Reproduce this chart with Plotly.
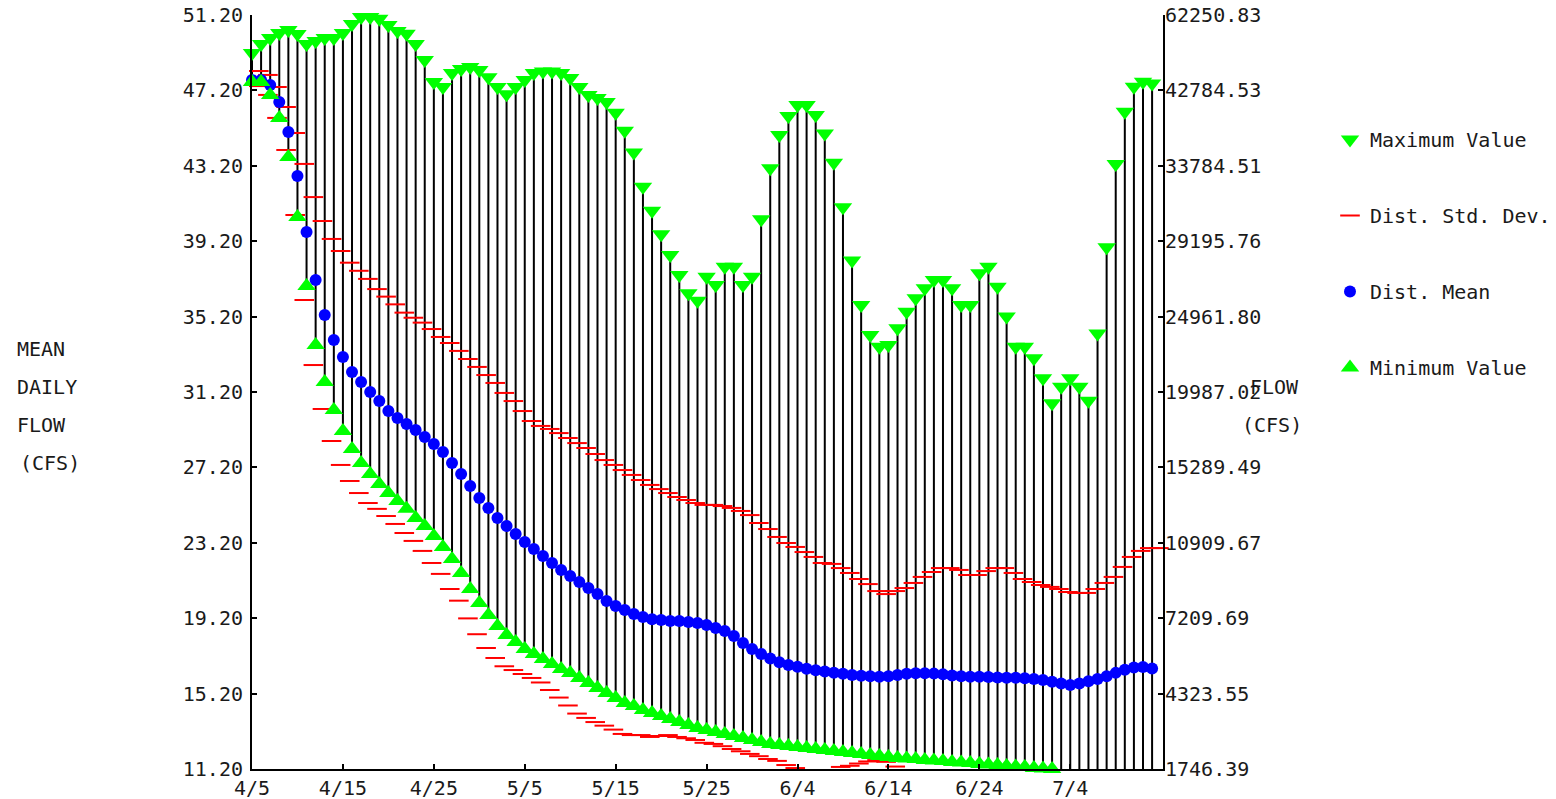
import plotly.graph_objects as go

# ---------------- data ----------------
DAYS = list(range(100))  # day 0 = 4/5 ... day 99 = 7/13
X_TICK_VALS = [0, 10, 20, 30, 40, 50, 60, 70, 80, 90]
X_TICK_TEXT = ["4/5", "4/15", "4/25", "5/5", "5/15", "5/25", "6/4", "6/14", "6/24", "7/4"]

Y_TICK_VALS = [11.2, 15.2, 19.2, 23.2, 27.2, 31.2, 35.2, 39.2, 43.2, 47.2, 51.2]
Y_TICK_LEFT = ["11.20", "15.20", "19.20", "23.20", "27.20", "31.20", "35.20",
               "39.20", "43.20", "47.20", "51.20"]
Y_TICK_RIGHT = ["1746.39", "4323.55", "7209.69", "10909.67", "15289.49", "19987.02",
                "24961.80", "29195.76", "33784.51", "42784.53", "62250.83"]

MAX_VALUE = [
    49.18, 49.66, 49.98, 50.25, 50.40, 50.19, 49.66, 49.82, 49.98, 49.98,
    50.25, 50.72, 51.10, 51.10, 51.00, 50.67, 50.35, 50.20, 49.66, 48.81,
    47.65, 47.38, 48.12, 48.34, 48.44, 48.28, 47.90, 47.38, 47.00, 47.38,
    47.75, 48.12, 48.20, 48.20, 48.12, 47.86, 47.38, 46.96, 46.80, 46.58,
    46.02, 45.06, 43.90, 42.09, 40.82, 39.57, 38.47, 37.41, 36.44, 36.04,
    37.32, 36.88, 37.85, 37.85, 36.88, 37.32, 40.36, 43.07, 44.83, 45.84,
    46.43, 46.43, 45.90, 44.92, 43.36, 41.00, 38.17, 35.82, 34.22, 33.60,
    33.69, 34.58, 35.46, 36.17, 36.70, 37.14, 37.14, 36.70, 35.82, 35.82,
    37.50, 37.85, 36.79, 35.20, 33.60, 33.60, 32.99, 31.93, 30.60, 31.48,
    31.93, 31.48, 30.74, 34.31, 38.88, 43.30, 46.07, 47.40, 47.66, 47.57,
]

MEAN_VALUE = [
    47.75, 47.75, 47.49, 46.58, 44.99, 42.66, 39.69, 37.14, 35.28, 33.96,
    33.06, 32.26, 31.73, 31.20, 30.72, 30.19, 29.82, 29.50, 29.18, 28.81,
    28.44, 28.02, 27.43, 26.85, 26.21, 25.58, 25.05, 24.52, 24.09, 23.67,
    23.24, 22.87, 22.50, 22.13, 21.76, 21.44, 21.12, 20.80, 20.48, 20.11,
    19.85, 19.64, 19.42, 19.26, 19.15, 19.10, 19.05, 19.05, 19.00, 18.94,
    18.84, 18.68, 18.52, 18.26, 17.88, 17.57, 17.30, 17.06, 16.86, 16.72,
    16.62, 16.52, 16.44, 16.37, 16.31, 16.25, 16.19, 16.15, 16.12, 16.10,
    16.12, 16.19, 16.25, 16.28, 16.28, 16.26, 16.22, 16.16, 16.12, 16.10,
    16.10, 16.08, 16.06, 16.04, 16.04, 16.02, 15.98, 15.92, 15.83, 15.74,
    15.66, 15.73, 15.85, 15.97, 16.12, 16.30, 16.47, 16.59, 16.61, 16.53,
]

MIN_VALUE = [
    47.65, 47.65, 46.96, 45.74, 43.67, 40.48, 36.82, 33.69, 31.73, 30.25,
    29.13, 28.18, 27.43, 26.85, 26.32, 25.84, 25.42, 25.00, 24.52, 24.09,
    23.56, 22.98, 22.34, 21.60, 20.75, 20.01, 19.37, 18.79, 18.31, 17.94,
    17.57, 17.30, 17.04, 16.77, 16.50, 16.29, 16.03, 15.76, 15.50, 15.23,
    14.97, 14.70, 14.54, 14.33, 14.17, 14.01, 13.85, 13.69, 13.53, 13.37,
    13.27, 13.16, 13.06, 12.95, 12.84, 12.74, 12.63, 12.53, 12.47, 12.42,
    12.37, 12.31, 12.26, 12.21, 12.16, 12.10, 12.05, 12.00, 11.94, 11.89,
    11.84, 11.78, 11.76, 11.73, 11.68, 11.65, 11.63, 11.57, 11.55, 11.52,
    11.47, 11.44, 11.41, 11.36, 11.33, 11.31, 11.25, 11.22, 11.20, 11.17,
    11.15, 11.12, 11.09, 11.07, 11.04, 11.01, 10.99, 10.96, 10.94, 10.88,
]

STD_UPPER = [
    48.23, 48.02, 47.38, 46.32, 44.94, 43.30, 41.54, 40.27, 39.32, 38.68,
    38.06, 37.63, 37.20, 36.66, 36.26, 35.85, 35.41, 35.14, 34.88, 34.54,
    34.12, 33.80, 33.38, 32.95, 32.53, 32.10, 31.68, 31.15, 30.72, 30.19,
    29.66, 29.40, 29.24, 29.02, 28.76, 28.49, 28.23, 27.91, 27.59, 27.33,
    27.06, 26.80, 26.53, 26.27, 26.05, 25.84, 25.63, 25.47, 25.31, 25.21,
    25.21, 25.15, 25.05, 24.89, 24.67, 24.25, 23.93, 23.51, 23.19, 22.98,
    22.71, 22.45, 22.13, 22.08, 21.86, 21.60, 21.28, 21.01, 20.64, 20.48,
    20.64, 20.80, 21.07, 21.39, 21.65, 21.86, 21.86, 21.76, 21.49, 21.49,
    21.70, 21.86, 21.86, 21.60, 21.28, 21.12, 20.96, 20.86, 20.75, 20.59,
    20.54, 20.54, 20.75, 21.07, 21.39, 21.92, 22.45, 22.77, 22.92, 22.92,
]

STD_LOWER = [
    47.43, 46.96, 45.74, 44.04, 40.59, 36.08, 32.63, 30.30, 28.60, 27.33,
    26.48, 25.84, 25.31, 25.00, 24.62, 24.20, 23.72, 23.30, 22.77, 22.13,
    21.55, 20.75, 20.13, 19.19, 18.35, 17.62, 17.09, 16.65, 16.45, 16.24,
    16.03, 15.79, 15.39, 14.99, 14.57, 14.14, 13.91, 13.69, 13.50, 13.29,
    13.06, 13.00, 13.00, 12.90, 12.95, 13.00, 12.90, 12.83, 12.74, 12.59,
    12.53, 12.41, 12.26, 12.14, 12.00, 11.88, 11.73, 11.63, 11.41, 11.25,
    11.06, 11.06, 11.06, 11.19, 11.31, 11.37, 11.49, 11.60, 11.67, 11.58,
    11.33, 11.06, None, None, None, None, None, None, None, None,
    None, None, None, None, None, None, None, None, None, None,
    None, None, None, None, None, None, None, None, None, None,
]

# ---------------- style ----------------
FONT = "DejaVu Sans Mono"
FS = 20
TXT = "#1a1a1a"
GREEN = "#00ff00"
BLUE = "#0000ff"
RED = "#ff0000"
RED_OFFSET = 0.75  # std-dev dashes are drawn just to the right of each day

# the page body adds an 8px offset, so the figure is 8px smaller on each side
FIG_W, FIG_H = 1548, 791

fig = go.Figure()

# vertical range stems (min to max)
sx, sy = [], []
for d, lo, hi in zip(DAYS, MIN_VALUE, MAX_VALUE):
    sx += [d, d, None]
    sy += [lo, hi, None]
fig.add_trace(go.Scatter(x=sx, y=sy, mode="lines", line=dict(color="black", width=2),
                         showlegend=False, hoverinfo="skip", cliponaxis=False))

red_x = [d + RED_OFFSET for d in DAYS]
fig.add_trace(go.Scatter(x=red_x, y=STD_UPPER, mode="markers", name="Dist. Std. Dev.",
                         legendgroup="sd", legendrank=2,
                         marker=dict(symbol="line-ew", size=14, color=RED,
                                     line=dict(color=RED, width=2)),
                         cliponaxis=False))
fig.add_trace(go.Scatter(x=red_x, y=STD_LOWER, mode="markers", name="Dist. Std. Dev.",
                         legendgroup="sd", showlegend=False,
                         marker=dict(symbol="line-ew", size=14, color=RED,
                                     line=dict(color=RED, width=2)),
                         cliponaxis=False))
fig.add_trace(go.Scatter(x=DAYS, y=MAX_VALUE, mode="markers", name="Maximum Value",
                         legendgroup="max", legendrank=1, yaxis="y2",
                         marker=dict(symbol="triangle-down", size=16, color=GREEN,
                                     line=dict(width=0)),
                         cliponaxis=False))
fig.add_trace(go.Scatter(x=DAYS, y=MEAN_VALUE, mode="markers", name="Dist. Mean",
                         legendgroup="mean", legendrank=3,
                         marker=dict(symbol="circle", size=12, color=BLUE,
                                     line=dict(width=0)),
                         cliponaxis=False))
fig.add_trace(go.Scatter(x=DAYS, y=MIN_VALUE, mode="markers", name="Minimum Value",
                         legendgroup="min", legendrank=4,
                         marker=dict(symbol="triangle-up", size=16, color=GREEN,
                                     line=dict(width=0)),
                         cliponaxis=False))

axis_common = dict(showgrid=False, zeroline=False, showline=True, linecolor="black",
                   linewidth=2, ticks="inside", ticklen=5, tickwidth=2, tickcolor="black",
                   automargin=False, ticklabeloverflow="allow",
                   tickfont=dict(family=FONT, size=FS, color=TXT))

fig.update_layout(
    width=FIG_W, height=FIG_H,
    margin=dict(l=244, r=FIG_W - 1155, t=7, b=FIG_H - 761, autoexpand=False),
    paper_bgcolor="white", plot_bgcolor="white",
    font=dict(family=FONT, size=FS, color=TXT),
    xaxis=dict(range=[0, 100.2], tickmode="array", tickvals=X_TICK_VALS,
               ticktext=X_TICK_TEXT, **axis_common),
    yaxis=dict(range=[11.2, 51.2], tickmode="array", tickvals=Y_TICK_VALS,
               ticktext=Y_TICK_LEFT, ticklabelstandoff=3, **axis_common),
    yaxis2=dict(range=[11.2, 51.2], tickmode="array", tickvals=Y_TICK_VALS,
                ticktext=Y_TICK_RIGHT, overlaying="y", side="right",
                ticklabelstandoff=-4, **axis_common),
    showlegend=True,
    legend=dict(x=(1330 - 8) / FIG_W, y=1 - 112 / FIG_H, xref="container", yref="container",
                xanchor="left", yanchor="top", tracegroupgap=47,
                font=dict(family=FONT, size=FS, color=TXT),
                bgcolor="rgba(0,0,0,0)"),
)

def px_x(px):
    return (px - 252) / 911.0

def px_y(py):
    return (769 - py) / 754.0

labels = [("MEAN", 15, 349), ("DAILY", 15, 387), ("FLOW", 15, 425), ("(CFS)", 18, 463),
          ("FLOW", 1248, 387), ("(CFS)", 1240, 425)]
for text, lx, ly in labels:
    fig.add_annotation(text=text, x=px_x(lx), y=px_y(ly), xref="paper", yref="paper",
                       xanchor="left", yanchor="middle", showarrow=False,
                       font=dict(family=FONT, size=FS, color=TXT))

fig.write_html("out.html")
